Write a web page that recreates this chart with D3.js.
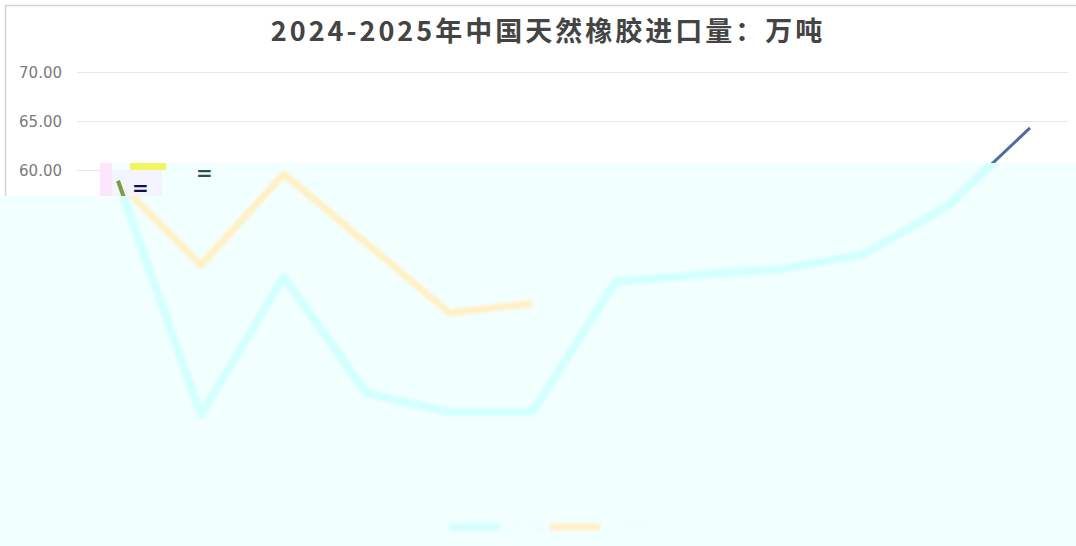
<!DOCTYPE html>
<html>
<head>
<meta charset="utf-8">
<script src="https://cdn.jsdelivr.net/npm/d3@7"></script>
<style>
    body {margin: 0; background: #fff;}
    svg {display: block;}
</style>
</head>
<body>
<div id="chart"></div>
<script>
const months = ['1月', '2月', '3月', '4月', '5月', '6月', '7月', '8月', '9月', '10月', '11月', '12月']
const series2024 = [58.9, 35.0, 49.1, 37.2, 35.3, 35.3, 48.6, 49.3, 49.9, 51.4, 56.3, 64.3]
const series2025 = [58.8, 50.3, 59.6, 52.5, 45.4, 46.4]
const seriesNames = ['2024年', '2025年']
const yTicks = [30, 35, 40, 45, 50, 55, 60, 65, 70]
const title = '2024-2025年中国天然橡胶进口量：万吨'

const W = 1076, H = 546
let margin = ({top: 72, right: 46, bottom: 82, left: 118})

const svg = d3.select('#chart').append('svg')
    .attr('width', W)
    .attr('height', H)
    .style('font-family', '"Noto Sans CJK SC", "Noto Sans", sans-serif')

const xScale = d3.scalePoint()
    .domain(months)
    .range([margin.left, W - margin.right])
const yScale = d3.scaleLinear()
    .domain([30, 70])
    .range([H - margin.bottom, margin.top])

const defs = svg.append('defs')
// part of the chart that stayed readable (above the washed area)
defs.append('clipPath').attr('id', 'clipTop')
    .append('path')
    .attr('d', 'M0,0H1076V163H135V196H0Z')
defs.append('clipPath').attr('id', 'clipLow')
    .append('path')
    .attr('d', 'M135,163H1076V546H0V196H135Z')
defs.append('filter').attr('id', 'soft')
    .append('feGaussianBlur').attr('stdDeviation', 1.6)

// frame
svg.append('path')
    .attr('d', 'M5.5,196V5.5H1076')
    .attr('fill', 'none')
    .attr('stroke', '#d4d4d4')
    .attr('stroke-width', 1.5)

svg.append('text')
    .attr('x', 548)
    .attr('y', 41)
    .attr('text-anchor', 'middle')
    .attr('font-size', 27)
    .attr('font-weight', 'bold')
    .attr('letter-spacing', 3)
    .attr('fill', '#444')
    .text(title)

const yAxis = d3.axisLeft(yScale)
    .tickValues(yTicks)
    .tickSize(-(W - 8 - 77))
    .tickFormat(d3.format('.2f'))
svg.append('g')
    .attr('transform', 'translate(77,0)')
    .call(yAxis)
    .call(g => g.select('.domain').remove())
    .call(g => g.selectAll('.tick line').attr('stroke', '#e6e6e6'))
    .call(g => g.selectAll('.tick text')
        .attr('x', -15)
        .attr('dy', '0.34em')
        .attr('font-size', 15)
        .attr('fill', '#7a7a7a')
        .style('font-family', '"DejaVu Sans", sans-serif'))

const line = d3.line()
    .x((d, i) => xScale(months[i]))
    .y(d => yScale(d))

const topLayer = svg.append('g').attr('clip-path', 'url(#clipTop)')
topLayer.append('path')
    .datum(series2024)
    .attr('fill', 'none')
    .attr('stroke', '#4e6f99')
    .attr('stroke-width', 3)
    .attr('d', line)
topLayer.append('path')
    .datum(series2025)
    .attr('fill', 'none')
    .attr('stroke', '#b5c25a')
    .attr('stroke-opacity', 0.8)
    .attr('stroke-width', 4)
    .attr('d', line)

// washed out lower part
svg.append('path')
    .attr('d', 'M100,163H1076V546H0V196H100Z')
    .attr('fill', '#f2ffff')

// glitch specks near the first point
svg.append('rect').attr('x', 100).attr('y', 163).attr('width', 12).attr('height', 33).attr('fill', '#fbe6fb')
svg.append('rect').attr('x', 130).attr('y', 163).attr('width', 36).attr('height', 7).attr('fill', '#f0f560')
svg.append('rect').attr('x', 112).attr('y', 170).attr('width', 50).attr('height', 26).attr('fill', '#f4f4ff')
svg.append('text').attr('x', 196).attr('y', 180).attr('font-size', 20).attr('font-weight', 'bold')
    .attr('fill', '#2f4f4f').style('font-family', '"DejaVu Sans"').text('=')
svg.append('text').attr('x', 132).attr('y', 195).attr('font-size', 20).attr('font-weight', 'bold')
    .attr('fill', '#10104a').style('font-family', '"DejaVu Sans"').text('=')

const lowLayer = svg.append('g').attr('clip-path', 'url(#clipLow)').attr('filter', 'url(#soft)')
lowLayer.append('path')
    .datum(series2024)
    .attr('fill', 'none')
    .attr('stroke', '#d2ffff')
    .attr('stroke-width', 8)
    .attr('stroke-linejoin', 'round')
    .attr('d', line)
lowLayer.append('path')
    .datum(series2025)
    .attr('fill', 'none')
    .attr('stroke', '#fff0c4')
    .attr('stroke-width', 7)
    .attr('stroke-linejoin', 'round')
    .attr('d', line)

svg.append('path')
    .datum(series2024.slice(0, 2))
    .attr('fill', 'none')
    .attr('stroke', '#7d9a45')
    .attr('stroke-width', 4)
    .attr('clip-path', 'url(#clipTop)')
    .attr('d', line)

// legend (faded)
const legendColors = ['#d2ffff', '#fff0c4']
const legend = svg.append('g').attr('filter', 'url(#soft)')
seriesNames.forEach((name, i) => {
    let gx = 450 + i * 100
    legend.append('line')
        .attr('x1', gx).attr('x2', gx + 50)
        .attr('y1', 527).attr('y2', 527)
        .attr('stroke', legendColors[i])
        .attr('stroke-width', 7)
    legend.append('text')
        .attr('x', gx + 56)
        .attr('y', 532)
        .attr('font-size', 13)
        .attr('fill', '#eafcfc')
        .text(name)
})
</script>
</body>
</html>
